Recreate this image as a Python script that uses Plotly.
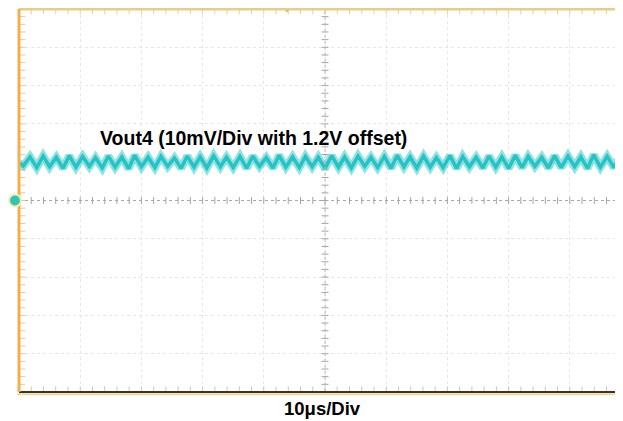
import plotly.graph_objects as go
import numpy as np

# ---------------- data (read from the scope capture) ----------------
# time in microseconds, voltage in mV (AC part, 10 mV/div, ground marker at 0)
peak_t = [1.8, 3.95, 6.1, 8.2, 10.4, 12.5, 14.6, 16.8, 18.9, 21.1, 23.2, 25.4,
          27.5, 29.6, 31.8, 33.9, 36.1, 38.2, 40.4, 42.5, 44.7, 46.8, 48.9, 51.1,
          53.2, 55.4, 57.5, 59.7, 61.8, 63.9, 66.1, 68.2, 70.4, 72.5, 74.7, 76.8,
          78.9, 81.1, 83.2, 85.4, 87.5, 89.7, 91.8, 93.9, 96.1, 98.2]
peak_v = [11.4, 11.6, 11.3, 11.7, 11.5, 11.2, 11.6, 11.4, 11.8, 11.3, 11.5, 11.1,
          11.6, 11.4, 11.7, 11.3, 11.5, 11.6, 11.2, 11.8, 11.4, 11.5, 11.3, 11.7,
          11.4, 11.6, 11.3, 11.5, 11.8, 11.4, 11.6, 11.2, 11.7, 11.5, 11.3, 11.6,
          11.4, 11.8, 11.5, 11.3, 11.7, 11.6, 11.4, 11.9, 11.5, 11.6]
trough_t = [0.7, 2.9, 5.0, 7.2, 9.3, 11.5, 13.6, 15.7, 17.9, 20.0, 22.2, 24.3,
            26.5, 28.6, 30.7, 32.9, 35.0, 37.2, 39.3, 41.5, 43.6, 45.8, 47.9, 50.0,
            52.2, 54.3, 56.5, 58.6, 60.8, 62.9, 65.0, 67.2, 69.3, 71.5, 73.6, 75.8,
            77.9, 80.0, 82.2, 84.3, 86.5, 88.6, 90.8, 92.9, 95.0, 97.2]
trough_v = [9.0, 8.6, 8.8, 8.4, 8.7, 8.9, 8.5, 8.7, 8.3, 8.8, 8.6, 8.9,
            8.4, 8.7, 8.5, 8.8, 8.6, 8.4, 8.9, 8.5, 8.7, 8.6, 8.8, 8.4,
            8.7, 8.5, 8.9, 8.6, 8.4, 8.8, 8.5, 8.7, 8.6, 8.4, 8.8, 8.5,
            8.7, 8.4, 8.6, 8.9, 8.5, 8.6, 8.8, 8.4, 8.7, 8.6]
start_t, start_v = 0.0, 9.8

TRACE_LABEL = "Vout4 (10mV/Div with 1.2V offset)"
TIMEBASE_LABEL = "10\u03bcs/Div"
TRIGGER_T_US = 43.8

# ---------------- build trace ----------------
pts = [(start_t, start_v)] + list(zip(trough_t, trough_v)) + list(zip(peak_t, peak_v))
pts.sort(key=lambda p: p[0])
t = [p[0] for p in pts]
v = [p[1] for p in pts]

X_MAX = 100 * 604 / 612  # screen is cut at the right
fig = go.Figure()

# center cross tick marks
cx_ticks = np.arange(0, 100.1, 2)
cy_ticks = np.arange(-50, 50.1, 2)
fig.add_trace(go.Scatter(x=cx_ticks, y=[0] * len(cx_ticks), mode="markers",
                         marker=dict(symbol="line-ns", size=5, line=dict(color="#a5a5a5", width=1)),
                         hoverinfo="skip"))
fig.add_trace(go.Scatter(x=[50] * len(cy_ticks), y=cy_ticks, mode="markers",
                         marker=dict(symbol="line-ew", size=5, line=dict(color="#a5a5a5", width=1)),
                         hoverinfo="skip"))
# edge ticks
fig.add_trace(go.Scatter(x=cx_ticks, y=[50] * len(cx_ticks), mode="markers",
                         marker=dict(symbol="line-ns", size=8, line=dict(color="#e8d594", width=1)),
                         hoverinfo="skip"))
fig.add_trace(go.Scatter(x=cx_ticks, y=[-50] * len(cx_ticks), mode="markers",
                         marker=dict(symbol="line-ns", size=8, line=dict(color="#cfc8ae", width=1)),
                         hoverinfo="skip"))
fig.add_trace(go.Scatter(x=[0] * len(cy_ticks), y=cy_ticks, mode="markers",
                         marker=dict(symbol="line-ew", size=9, line=dict(color="#f1c88a", width=1)),
                         hoverinfo="skip"))

# waveform: glow band + core
fig.add_trace(go.Scatter(x=t, y=v, mode="lines",
                         line=dict(color="rgba(70,208,210,0.6)", width=8, shape="linear"),
                         hoverinfo="skip"))
fig.add_trace(go.Scatter(x=t, y=v, mode="lines",
                         line=dict(color="#26c2c4", width=3.5, shape="linear"),
                         hoverinfo="skip"))

# trigger marker
fig.add_trace(go.Scatter(x=[TRIGGER_T_US], y=[50], mode="markers", cliponaxis=False,
                         marker=dict(symbol="triangle-down", size=7, color="#e8a535"),
                         hoverinfo="skip"))

shapes = [
    dict(type="line", xref="x", yref="y", x0=50, x1=50, y0=-50, y1=50,
         line=dict(color="#b8b8b8", width=1, dash="dot")),
    dict(type="line", xref="x", yref="y", x0=0, x1=X_MAX, y0=0, y1=0,
         line=dict(color="#a8a8a8", width=1, dash="dot")),
    # frame
    dict(type="line", xref="paper", yref="paper", x0=0, x1=1, y0=1, y1=1,
         line=dict(color="#e6cf82", width=3)),
    dict(type="line", xref="paper", yref="paper", x0=0, x1=1, y0=0, y1=0,
         line=dict(color="#3c3422", width=2)),
    dict(type="line", xref="paper", yref="paper", x0=-0.003, x1=1, y0=-0.006, y1=-0.006,
         line=dict(color="#f0d99a", width=2)),
    dict(type="line", xref="paper", yref="paper", x0=0, x1=0, y0=0, y1=1,
         line=dict(color="#f3ae52", width=3)),
    # ground marker (at the left edge, on the centre line)
    dict(type="circle", xref="paper", yref="paper", xsizemode="pixel", ysizemode="pixel",
         xanchor=0, yanchor=0.5, x0=-11, x1=3, y0=-7, y1=7, layer="above",
         fillcolor="#f4efb0", line=dict(width=0)),
    dict(type="circle", xref="paper", yref="paper", xsizemode="pixel", ysizemode="pixel",
         xanchor=0, yanchor=0.5, x0=-9, x1=1, y0=-5, y1=5, layer="above",
         fillcolor="#2ec4b8", line=dict(width=0)),
]

# the page body has an 8px margin: compensate so the plot lands where the reference has it
OFF = 8
fig.update_layout(
    width=623 - OFF, height=421 - OFF,
    margin=dict(l=19 - OFF, r=0, t=9 - OFF, b=29),
    paper_bgcolor="white", plot_bgcolor="white",
    showlegend=False,
    shapes=shapes,
    xaxis=dict(range=[0, X_MAX], dtick=10, tick0=0, showticklabels=False, ticks="",
               showgrid=True, gridcolor="#e6e6e6", griddash="dot", gridwidth=1,
               zeroline=False, showline=False, fixedrange=True),
    yaxis=dict(range=[-50, 50], dtick=10, tick0=0, showticklabels=False, ticks="",
               showgrid=True, gridcolor="#e6e6e6", griddash="dot", gridwidth=1,
               zeroline=False, showline=False, fixedrange=True),
    annotations=[
        dict(text="<b>" + TRACE_LABEL + "</b>", xref="paper", yref="paper",
             x=(253 - 19) / 604, y=(392 - 138) / 383, showarrow=False,
             xanchor="center", yanchor="middle",
             font=dict(family="Liberation Sans, Arial", size=19.5, color="black")),
        dict(text="<b>" + TIMEBASE_LABEL + "</b>", xref="paper", yref="paper",
             x=(322 - 19) / 604, y=(392 - 408) / 383, showarrow=False,
             xanchor="center", yanchor="middle",
             font=dict(family="Liberation Sans, Arial", size=18.5, color="black")),
    ],
)

fig.write_html("out.html")
